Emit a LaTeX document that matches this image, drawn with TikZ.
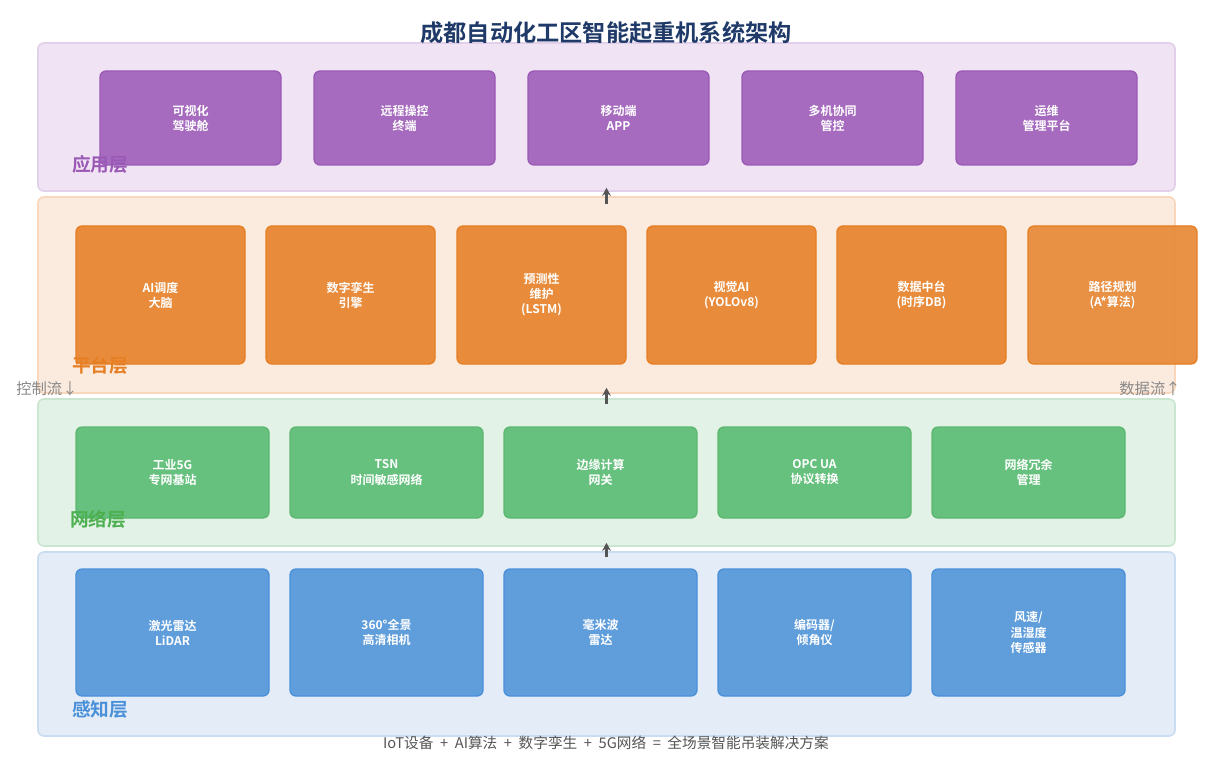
\documentclass[tikz,border=0pt]{standalone}
\usepackage{fontspec}
\setmainfont{Noto Sans CJK SC}[BoldFont={Noto Sans CJK SC Bold}]
\usepackage{tikz}
\usetikzlibrary{calc,arrows.meta}
\definecolor{titlec}{HTML}{1F3A68}
\definecolor{appbg}{HTML}{F0E4F4}
\definecolor{appedge}{HTML}{E2CFEA}
\definecolor{appfill}{HTML}{A66BBE}
\definecolor{appline}{HTML}{9B59B6}
\definecolor{platbg}{HTML}{FBEADE}
\definecolor{platedge}{HTML}{F8D7BC}
\definecolor{platfill}{HTML}{E88C3C}
\definecolor{platline}{HTML}{E67E22}
\definecolor{netbg}{HTML}{E3F2E6}
\definecolor{netedge}{HTML}{CAE6D0}
\definecolor{netfill}{HTML}{66C07E}
\definecolor{netline}{HTML}{5CB870}
\definecolor{nettext}{HTML}{4CAF50}
\definecolor{percbg}{HTML}{E3ECF7}
\definecolor{percedge}{HTML}{CADCF2}
\definecolor{percfill}{HTML}{5F9DDB}
\definecolor{percline}{HTML}{4A90D9}
\definecolor{arrowc}{HTML}{555555}
\definecolor{sidec}{HTML}{8A8A8A}
\def\pxu{0.75pt}
\tikzset{
  title/.style={text=titlec, font=\bfseries\fontsize{17.4}{19}\selectfont},
  layer/.style={rounded corners=4.5pt, line width=1.2pt, inner sep=0pt, minimum width=1137*\pxu},
  box/.style={rounded corners=4.5pt, line width=1pt, inner sep=0pt, align=center, text=white,
    font=\bfseries\fontsize{9}{11.3}\selectfont},
  appbox/.style={box, fill=appfill, draw=appline, minimum width=181*\pxu, minimum height=94*\pxu},
  platbox/.style={box, fill=platfill, draw=platline, minimum width=169*\pxu, minimum height=138*\pxu},
  netbox/.style={box, fill=netfill, draw=netline, minimum width=193*\pxu, minimum height=91*\pxu},
  percbox/.style={box, fill=percfill, draw=percline, minimum width=193*\pxu, minimum height=127*\pxu},
  laylab/.style={anchor=west, inner sep=0pt, font=\bfseries\fontsize{14}{16}\selectfont},
  flow/.style={draw=arrowc, line width=1.6pt, -{Stealth[length=6pt,width=6.5pt]}},
  side/.style={text=sidec, font=\fontsize{11.5}{13}\selectfont},
  foot/.style={text=arrowc, font=\fontsize{11}{13}\selectfont},
}
\begin{document}
\begin{tikzpicture}[x=0.75pt,y=-0.75pt]
  \fill[white] (0,0) rectangle (1214,763);
  \useasboundingbox (0,0) rectangle (1214,763);

  % layers
  \node[layer, fill=appbg, draw=appedge, minimum height=148*\pxu] (app) at (606.5,117) {};
  \node[layer, fill=platbg, draw=platedge, minimum height=196*\pxu] (plat) at (606.5,295) {};
  \node[layer, fill=netbg, draw=netedge, minimum height=147*\pxu] (net) at (606.5,472.5) {};
  \node[layer, fill=percbg, draw=percedge, minimum height=184*\pxu] (perc) at (606.5,644) {};

  % application layer
  \node[appbox] (a1) at (190.5,118) {可视化\\驾驶舱};
  \node[appbox] (a2) at (404.5,118) {远程操控\\终端};
  \node[appbox] (a3) at (618.5,118) {移动端\\APP};
  \node[appbox] (a4) at (832.5,118) {多机协同\\管控};
  \node[appbox] (a5) at (1046.5,118) {运维\\管理平台};

  % platform layer
  \node[platbox] (p1) at (160.5,295) {AI调度\\大脑};
  \node[platbox] (p2) at (350.5,295) {数字孪生\\引擎};
  \node[platbox] (p3) at (541.5,295) {预测性\\维护\\(LSTM)};
  \node[platbox] (p4) at (731.5,295) {视觉AI\\(YOLOv8)};
  \node[platbox] (p5) at (921.5,295) {数据中台\\(时序DB)};
  \node[platbox, fill opacity=0.95, text opacity=1] (p6) at (1112.5,295) {路径规划\\(A*算法)};

  % network layer
  \node[netbox] (n1) at (172.5,472.5) {工业5G\\专网基站};
  \node[netbox] (n2) at (386.5,472.5) {TSN\\时间敏感网络};
  \node[netbox] (n3) at (600.5,472.5) {边缘计算\\网关};
  \node[netbox] (n4) at (814.5,472.5) {OPC UA\\协议转换};
  \node[netbox] (n5) at (1028.5,472.5) {网络冗余\\管理};

  % perception layer
  \node[percbox] (s1) at (172.5,632.5) {激光雷达\\LiDAR};
  \node[percbox] (s2) at (386.5,632.5) {360°全景\\高清相机};
  \node[percbox] (s3) at (600.5,632.5) {毫米波\\雷达};
  \node[percbox] (s4) at (814.5,632.5) {编码器/\\倾角仪};
  \node[percbox] (s5) at (1028.5,632.5) {风速/\\温湿度\\传感器};

  \node[laylab, text=appline] (applab) at (72,164) {应用层};
  \node[laylab, text=platline] (platlab) at (72,365) {平台层};
  \node[laylab, text=nettext] (netlab) at (70,519) {网络层};
  \node[laylab, text=percline] (perclab) at (72,709) {感知层};

  % data flow upwards
  \draw[flow] ($(plat.north)+(0,8)$) -- ($(app.south)+(0,-4)$);
  \draw[flow] ($(net.north)+(0,6)$) -- ($(plat.south)+(0,-6)$);
  \draw[flow] ($(perc.north)+(0,6)$) -- ($(net.south)+(0,-4)$);

  \node[side] (ctrl) at (47,389) {控制流↓};
  \node[side] (data) at (1150,389) {数据流↑};

  \node[title] (title) at (606,33) {成都自动化工区智能起重机系统架构};
  \node[foot] (foot) at (606,743) {IoT设备\ \ +\ \ AI算法\ \ +\ \ 数字孪生\ \ +\ \ 5G网络\ \ =\ \ 全场景智能吊装解决方案};
\end{tikzpicture}
\end{document}
